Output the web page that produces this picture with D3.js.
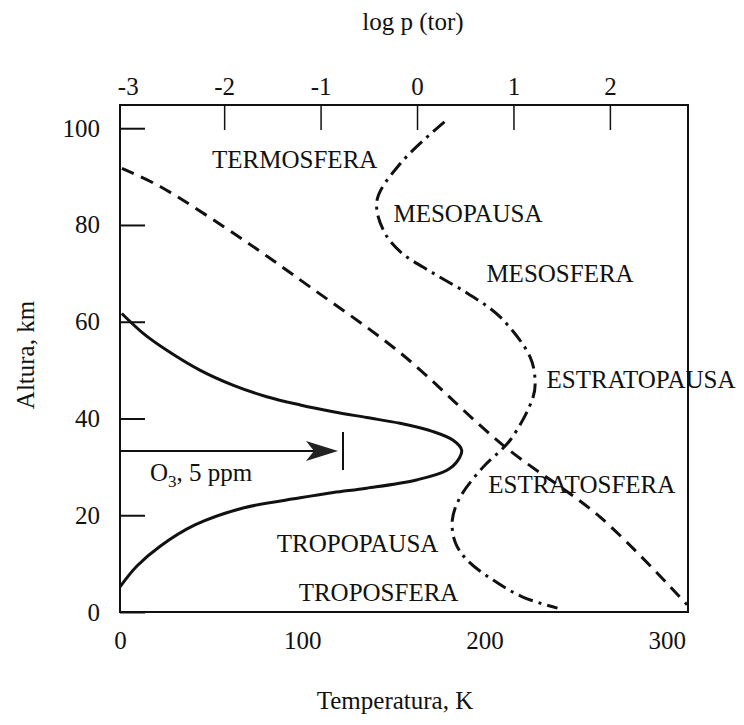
<!DOCTYPE html>
<html lang="es">
<head>
<meta charset="UTF-8">
<title>Atmósfera: temperatura, presión y ozono</title>
<script src="https://cdn.jsdelivr.net/npm/d3@7"></script>
<style>
  body { margin: 0; background: #fff; }
  svg text { font-family: "Liberation Serif", "DejaVu Serif", serif; fill: #111; }
</style>
</head>
<body>
<svg id="chart" width="744" height="725"></svg>
<script>
// temperatura (K) vs altura (km) - curva punto-raya
var tempK  = [178, 154, 141, 144.5, 154, 172, 190.5, 208.5, 225, 227.7, 226.6, 214, 199.3, 186.7, 182.3, 184, 190.5, 204.7, 221, 240];
var tempKm = [101.3, 92.8, 85.1, 78.9, 74.4, 70, 65.9, 61, 52.7, 47.9, 44.4, 35.5, 30, 23.8, 19, 14.3, 10.7, 6.6, 3.1, 0.8];

// log p (tor) vs altura - curva de trazos
var logP   = [-3.06, -2.66, -1.8, -1.11, -0.17, 0.89, 1.9, 2.8];
var logPKm = [91.7, 87.9, 76.9, 67.2, 53.5, 34.5, 19.6, 1.5];

// ozono (ppm) vs altura - curva continua
var ozone   = [0.04, 0.52, 1.05, 1.79, 2.53, 3.29, 4.04, 4.78, 5.53, 6.28, 7.02, 7.47, 7.66, 7.58, 7.33, 6.65, 5.53, 4.78, 4.04, 2.76, 1.68, 0.9, 0.38, 0];
var ozoneKm = [61.7, 57.6, 54.1, 50, 46.9, 44.5, 42.8, 41.4, 40.2, 39, 37.3, 35.5, 33.5, 31.4, 29.3, 27.3, 25.6, 24.7, 23.6, 21.5, 18, 13.6, 9.5, 5.2];

var tempTicks = [0, 100, 200, 300];
var kmTicks = [0, 20, 40, 60, 80, 100];
var logPTicks = [-3, -2, -1, 0, 1, 2];

var layerNames = ["TERMOSFERA", "MESOPAUSA", "MESOSFERA", "ESTRATOPAUSA", "ESTRATOSFERA", "TROPOPAUSA", "TROPOSFERA"];
var layerT  = [50.5, 150, 201, 234, 202, 86, 98];   // posición (K) del inicio del texto
var layerKm = [91.8, 80.6, 68.3, 46.3, 24.7, 12.5, 2.2];

var svg = d3.select("#chart");
var boxL = 120, boxR = 688, boxT = 105, boxB = 612;

var x = d3.scaleLinear().domain([0, 311.6]).range([boxL, boxR]);
var p = d3.scaleLinear().domain([-3.08, 2.81]).range([boxL, boxR]);
var oz = d3.scaleLinear().domain([0, 5]).range([boxL, 343]);
var y = d3.scaleLinear().domain([0, 104.8]).range([boxB, boxT]);

// caja
svg.append("rect").attr("x", boxL).attr("y", boxT).attr("width", boxR - boxL).attr("height", boxB - boxT)
  .attr("fill", "none").attr("stroke", "#111").attr("stroke-width", 2);

// eje izquierdo
var gl = svg.append("g").attr("transform", "translate(" + boxL + ",0)")
  .call(d3.axisLeft(y).tickValues(kmTicks).tickSizeInner(-25).tickSizeOuter(0).tickPadding(20));
gl.select(".domain").remove();
gl.selectAll("line").attr("stroke", "#111").attr("stroke-width", 2);
gl.selectAll("text").attr("font-size", 25).attr("font-family", "Liberation Serif");

// eje superior
var gt = svg.append("g").attr("transform", "translate(0," + boxT + ")")
  .call(d3.axisTop(p).tickValues(logPTicks).tickFormat(function (d) { return String(d); })
    .tickSizeInner(-25).tickSizeOuter(0).tickPadding(10));
gt.select(".domain").remove();
gt.selectAll("line").attr("stroke", "#111").attr("stroke-width", 1.5)
  .filter(function (d) { return d === -3; }).remove();
gt.selectAll("text").attr("font-size", 25).attr("font-family", "Liberation Serif");

// eje inferior
var gb = svg.append("g").attr("transform", "translate(0," + boxB + ")")
  .call(d3.axisBottom(x).tickValues(tempTicks).tickSize(0).tickPadding(19));
gb.select(".domain").remove();
gb.selectAll("text").attr("font-size", 25).attr("font-family", "Liberation Serif");

// títulos
svg.append("text").attr("x", 413).attr("y", 30).attr("text-anchor", "middle").attr("font-size", 25).text("log p (tor)");
svg.append("text").attr("x", 395).attr("y", 709).attr("text-anchor", "middle").attr("font-size", 25).text("Temperatura, K");
svg.append("text").attr("transform", "translate(34,355) rotate(-90)").attr("text-anchor", "middle").attr("font-size", 25).text("Altura, km");

var line = d3.line().curve(d3.curveCatmullRom.alpha(0.5));

// curvas
svg.append("path")
  .attr("d", line(ozone.map(function (d, i) { return [oz(d), y(ozoneKm[i])]; })))
  .attr("fill", "none").attr("stroke", "#111").attr("stroke-width", 3);

svg.append("path")
  .attr("d", line(logP.map(function (d, i) { return [p(d), y(logPKm[i])]; })))
  .attr("fill", "none").attr("stroke", "#111").attr("stroke-width", 3)
  .attr("stroke-dasharray", "13,8");

svg.append("path")
  .attr("d", line(tempK.map(function (d, i) { return [x(d), y(tempKm[i])]; })))
  .attr("fill", "none").attr("stroke", "#111").attr("stroke-width", 3)
  .attr("stroke-dasharray", "15,6,3,6");

// flecha de ozono 5 ppm
var arrowKm = 33.3;
var ya = y(arrowKm);
svg.append("line").attr("x1", oz(0)).attr("x2", oz(5) - 10).attr("y1", ya).attr("y2", ya)
  .attr("stroke", "#111").attr("stroke-width", 2);
var tip = oz(5) - 5;
svg.append("path")
  .attr("d", "M" + tip + "," + ya + " L" + (tip - 32) + "," + (ya - 10) + " L" + (tip - 24) + "," + ya + " L" + (tip - 32) + "," + (ya + 10) + " Z")
  .attr("fill", "#222");
svg.append("line").attr("x1", oz(5)).attr("x2", oz(5)).attr("y1", ya - 19).attr("y2", ya + 19)
  .attr("stroke", "#111").attr("stroke-width", 2);

var o3 = svg.append("text").attr("x", 150).attr("y", 481).attr("font-size", 25);
o3.append("tspan").text("O");
o3.append("tspan").attr("font-size", 17).attr("dy", 6).text("3");
o3.append("tspan").attr("dy", -6).text(", 5 ppm");

// nombres de capas
svg.append("g").selectAll("text").data(layerNames).enter().append("text")
  .attr("x", function (d, i) { return x(layerT[i]); })
  .attr("y", function (d, i) { return y(layerKm[i]); })
  .attr("font-size", 25)
  .text(function (d) { return d; });
</script>
</body>
</html>
